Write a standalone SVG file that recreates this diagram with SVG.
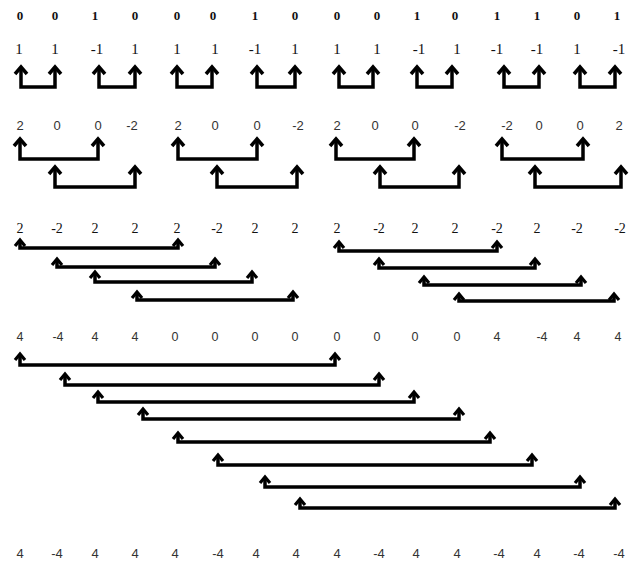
<svg xmlns="http://www.w3.org/2000/svg" width="637" height="562" viewBox="0 0 637 562">
<defs>
<style>
.t{font-family:"Liberation Serif","Times New Roman",serif;text-anchor:middle;fill:#111}
.b{font-size:13px;font-weight:bold}
.s2{font-size:15px}
.s4{font-size:14px}
.ss{font-family:"Liberation Sans",Arial,sans-serif;text-anchor:middle;fill:#333}
.s3{font-size:13px}
.s5{font-size:12.5px}
.s6{font-size:13px}
.big{fill:none;stroke:#000;stroke-width:3.5;stroke-linejoin:miter;marker-start:url(#hb);marker-end:url(#hb)}
.sm{fill:none;stroke:#000;stroke-width:3.5;stroke-linejoin:miter;marker-start:url(#hs);marker-end:url(#hs)}
</style>
<marker id="hb" markerUnits="userSpaceOnUse" viewBox="-12 -10 16 20" markerWidth="16" markerHeight="20" refX="0" refY="0" orient="auto-start-reverse">
<path d="M-7,-6 L0,0 L-7,6" fill="none" stroke="#000" stroke-width="3.5"/>
</marker>
<marker id="hs" markerUnits="userSpaceOnUse" viewBox="-12 -10 16 20" markerWidth="16" markerHeight="20" refX="0" refY="0" orient="auto-start-reverse">
<path d="M-6,-5 L0,0 L-6,5" fill="none" stroke="#000" stroke-width="3.2"/>
</marker>
</defs>
<rect width="637" height="562" fill="#fff"/>

<g id="row1" class="t b">
<g id="n1_1"><text x="20" y="20">0</text></g>
<g id="n1_2"><text x="55" y="20">0</text></g>
<g id="n1_3"><text x="95" y="20">1</text></g>
<g id="n1_4"><text x="135" y="20">0</text></g>
<g id="n1_5"><text x="177" y="20">0</text></g>
<g id="n1_6"><text x="213" y="20">0</text></g>
<g id="n1_7"><text x="255" y="20">1</text></g>
<g id="n1_8"><text x="295" y="20">0</text></g>
<g id="n1_9"><text x="337" y="20">0</text></g>
<g id="n1_10"><text x="377" y="20">0</text></g>
<g id="n1_11"><text x="417" y="20">1</text></g>
<g id="n1_12"><text x="455" y="20">0</text></g>
<g id="n1_13"><text x="497" y="20">1</text></g>
<g id="n1_14"><text x="537" y="20">1</text></g>
<g id="n1_15"><text x="577" y="20">0</text></g>
<g id="n1_16"><text x="617" y="20">1</text></g>
</g>

<g id="row2" class="t s2">
<g id="n2_1"><text x="19" y="54">1</text></g>
<g id="n2_2"><text x="55" y="54">1</text></g>
<g id="n2_3"><text x="97" y="54">-1</text></g>
<g id="n2_4"><text x="135" y="54">1</text></g>
<g id="n2_5"><text x="177" y="54">1</text></g>
<g id="n2_6"><text x="215" y="54">1</text></g>
<g id="n2_7"><text x="255" y="54">-1</text></g>
<g id="n2_8"><text x="295" y="54">1</text></g>
<g id="n2_9"><text x="337" y="54">1</text></g>
<g id="n2_10"><text x="377" y="54">1</text></g>
<g id="n2_11"><text x="419" y="54">-1</text></g>
<g id="n2_12"><text x="457" y="54">1</text></g>
<g id="n2_13"><text x="497" y="54">-1</text></g>
<g id="n2_14"><text x="537" y="54">-1</text></g>
<g id="n2_15"><text x="577" y="54">1</text></g>
<g id="n2_16"><text x="619" y="54">-1</text></g>
</g>

<g id="row3" class="ss s3">
<g id="n3_1"><text x="20" y="130">2</text></g>
<g id="n3_2"><text x="57" y="130">0</text></g>
<g id="n3_3"><text x="98" y="130">0</text></g>
<g id="n3_4"><text x="132" y="130">-2</text></g>
<g id="n3_5"><text x="178" y="130">2</text></g>
<g id="n3_6"><text x="215" y="130">0</text></g>
<g id="n3_7"><text x="257" y="130">0</text></g>
<g id="n3_8"><text x="298" y="130">-2</text></g>
<g id="n3_9"><text x="337" y="130">2</text></g>
<g id="n3_10"><text x="375" y="130">0</text></g>
<g id="n3_11"><text x="415" y="130">0</text></g>
<g id="n3_12"><text x="460" y="130">-2</text></g>
<g id="n3_13"><text x="507" y="130">-2</text></g>
<g id="n3_14"><text x="539" y="130">0</text></g>
<g id="n3_15"><text x="580" y="130">0</text></g>
<g id="n3_16"><text x="619" y="130">2</text></g>
</g>

<g id="row4" class="t s4">
<g id="n4_1"><text x="20" y="233">2</text></g>
<g id="n4_2"><text x="57" y="233">-2</text></g>
<g id="n4_3"><text x="95" y="233">2</text></g>
<g id="n4_4"><text x="135" y="233">2</text></g>
<g id="n4_5"><text x="177" y="233">2</text></g>
<g id="n4_6"><text x="217" y="233">-2</text></g>
<g id="n4_7"><text x="255" y="233">2</text></g>
<g id="n4_8"><text x="295" y="233">2</text></g>
<g id="n4_9"><text x="337" y="233">2</text></g>
<g id="n4_10"><text x="379" y="233">-2</text></g>
<g id="n4_11"><text x="415" y="233">2</text></g>
<g id="n4_12"><text x="455" y="233">2</text></g>
<g id="n4_13"><text x="497" y="233">-2</text></g>
<g id="n4_14"><text x="537" y="233">2</text></g>
<g id="n4_15"><text x="577" y="233">-2</text></g>
<g id="n4_16"><text x="620" y="233">-2</text></g>
</g>

<g id="row5" class="ss s5">
<g id="n5_1"><text x="20" y="341">4</text></g>
<g id="n5_2"><text x="58" y="341">-4</text></g>
<g id="n5_3"><text x="95" y="341">4</text></g>
<g id="n5_4"><text x="135" y="341">4</text></g>
<g id="n5_5"><text x="175" y="341">0</text></g>
<g id="n5_6"><text x="215" y="341">0</text></g>
<g id="n5_7"><text x="255" y="341">0</text></g>
<g id="n5_8"><text x="295" y="341">0</text></g>
<g id="n5_9"><text x="337" y="341">0</text></g>
<g id="n5_10"><text x="377" y="341">0</text></g>
<g id="n5_11"><text x="415" y="341">0</text></g>
<g id="n5_12"><text x="457" y="341">0</text></g>
<g id="n5_13"><text x="497" y="341">4</text></g>
<g id="n5_14"><text x="542" y="341">-4</text></g>
<g id="n5_15"><text x="577" y="341">4</text></g>
<g id="n5_16"><text x="618" y="341">4</text></g>
</g>

<g id="row6" class="ss s6">
<g id="n6_1"><text x="20" y="558">4</text></g>
<g id="n6_2"><text x="57" y="558">-4</text></g>
<g id="n6_3"><text x="95" y="558">4</text></g>
<g id="n6_4"><text x="135" y="558">4</text></g>
<g id="n6_5"><text x="175" y="558">4</text></g>
<g id="n6_6"><text x="218" y="558">-4</text></g>
<g id="n6_7"><text x="256" y="558">4</text></g>
<g id="n6_8"><text x="296" y="558">4</text></g>
<g id="n6_9"><text x="337" y="558">4</text></g>
<g id="n6_10"><text x="379" y="558">-4</text></g>
<g id="n6_11"><text x="416" y="558">4</text></g>
<g id="n6_12"><text x="457" y="558">4</text></g>
<g id="n6_13"><text x="499" y="558">-4</text></g>
<g id="n6_14"><text x="537" y="558">4</text></g>
<g id="n6_15"><text x="579" y="558">-4</text></g>
<g id="n6_16"><text x="619" y="558">-4</text></g>
</g>

<g id="connectors">
<g class="big">
<path d="M21,67 V87 H55 V67"/>
<path d="M99,67 V87 H135 V67"/>
<path d="M177,67 V87 H212 V67"/>
<path d="M257,67 V87 H295 V67"/>
<path d="M339,67 V87 H373 V67"/>
<path d="M417,67 V87 H452 V67"/>
<path d="M504,67 V87 H539 V67"/>
<path d="M580,67 V87 H615 V67"/>

<path d="M20,139 V159 H98 V139"/>
<path d="M55,167 V187 H135 V167"/>
<path d="M178,139 V159 H257 V139"/>
<path d="M217,167 V187 H297 V167"/>
<path d="M336,139 V159 H414 V139"/>
<path d="M380,167 V187 H459 V167"/>
<path d="M502,139 V159 H583 V139"/>
<path d="M535,167 V187 H621 V167"/>
</g>
<g class="sm">
<path d="M20,240 V248 H178 V240"/>
<path d="M57,259 V267 H215 V259"/>
<path d="M95,272 V282 H252 V272"/>
<path d="M137,292 V300 H293 V292"/>
<path d="M339,242 V251 H497 V242"/>
<path d="M379,259 V268 H535 V259"/>
<path d="M424,277 V285 H581 V277"/>
<path d="M459,294 V301 H614 V294"/>

<path d="M20,354 V365 H335 V354"/>
<path d="M65,374 V385 H379 V374"/>
<path d="M98,392 V402 H414 V392"/>
<path d="M143,409 V419 H459 V409"/>
<path d="M178,433 V442 H490 V433"/>
<path d="M218,455 V465 H532 V455"/>
<path d="M265,477 V487 H580 V477"/>
<path d="M300,499 V508 H615 V499"/>
</g>
</g>
</svg>
